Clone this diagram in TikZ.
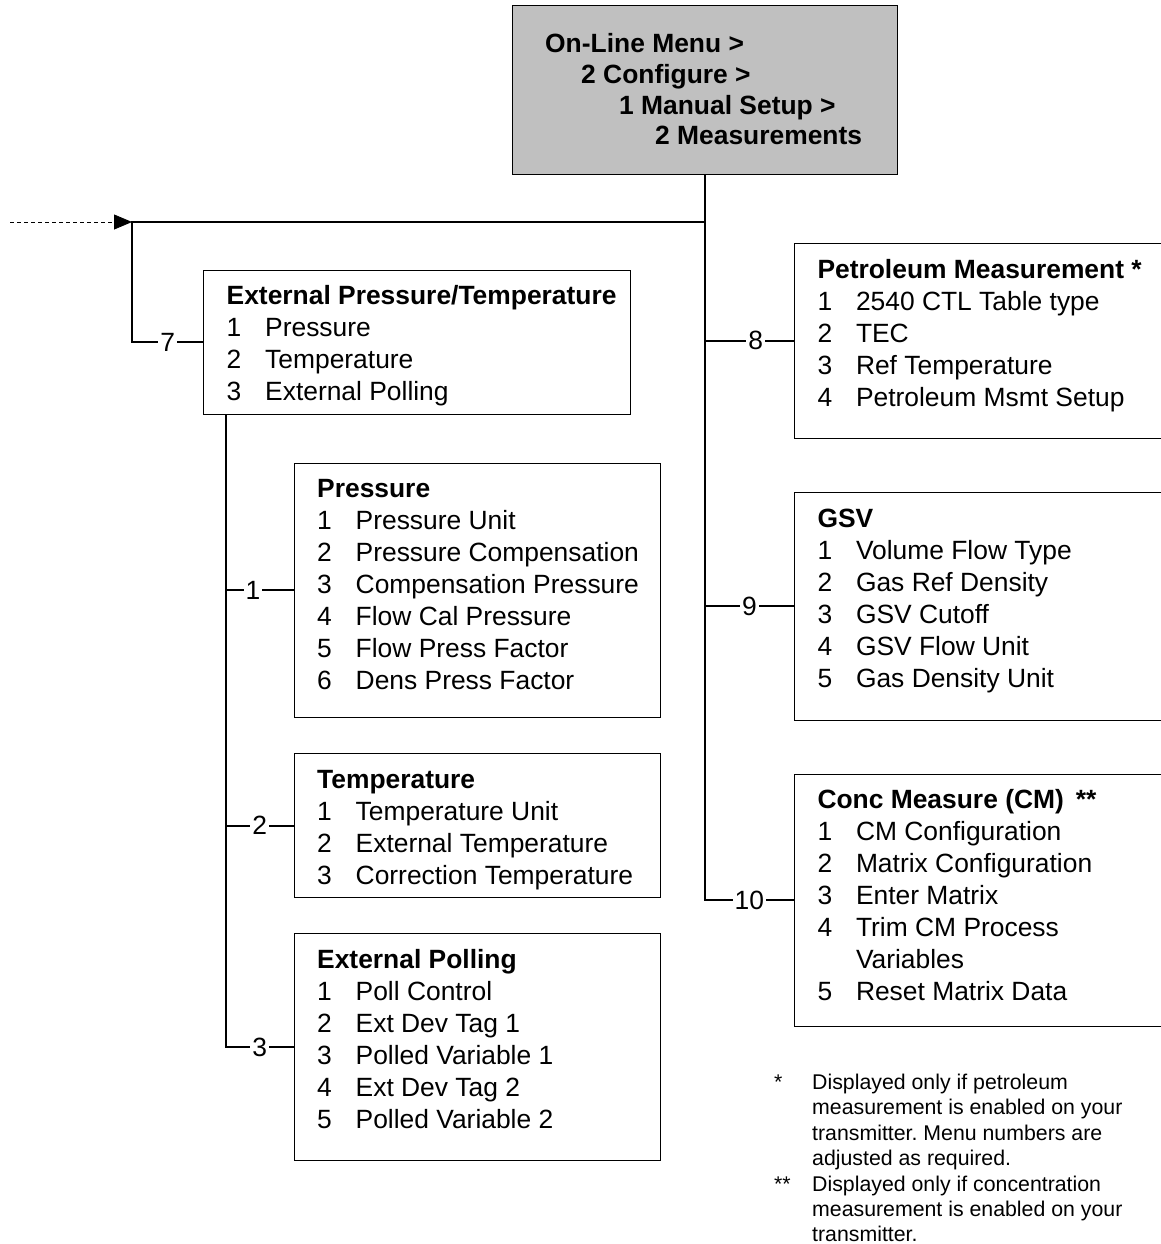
\documentclass[tikz,border=0pt]{standalone}
\usepackage{fontspec}
\setmainfont{Liberation Sans}
\usepackage{tikz}
\usetikzlibrary{arrows.meta,positioning,calc}
\definecolor{headgray}{HTML}{C0C0C0}
\frenchspacing

\newcommand{\itm}[2]{\makebox[38.5pt][l]{#1}#2}
\newcommand{\tstrut}{\rule{0pt}{20pt}}
\newcommand{\nstrut}{\rule{0pt}{18pt}}

\begin{document}
\begin{tikzpicture}[
  x=1pt, y=-1pt,
  >=Stealth,
  menubox/.style={draw, line width=1pt, anchor=north west, inner sep=0pt, outer sep=0pt},
  headbox/.style={menubox, fill=headgray},
  menutext/.style={anchor=north west, align=left, inner sep=0pt,
                   font=\fontsize{26.4}{32}\selectfont},
  headtext/.style={menutext, font=\fontsize{26.4}{30.7}\selectfont\bfseries},
  link/.style={draw, line width=2pt},
  num/.style={fill=white, inner sep=2pt, font=\fontsize{26.4}{32}\selectfont},
  note/.style={anchor=north west, align=left, inner sep=0pt,
               font=\fontsize{21.3}{25.3}\selectfont}
]
  \path[use as bounding box] (0,0) rectangle (1161,1244);
  \clip (0,0) rectangle (1161,1244);

  % menu path box
  \node[headbox, minimum width=385pt, minimum height=168pt] (measmenu) at (512,6) {};
  \node[headtext] (measmenu-t) at ([xshift=33pt, yshift=-26.5pt]measmenu.north west)
    {\tstrut On-Line Menu >\\
     \hspace*{36pt}2 Configure >\\
     \hspace*{74pt}1 Manual Setup >\\
     \hspace*{110pt}2 Measurements};

  % left column
  \node[menubox, minimum width=427pt, minimum height=144pt] (extpt) at (203.5,270) {};
  \node[menutext] (extpt-t) at ([xshift=23pt, yshift=-14.5pt]extpt.north west)
    {\tstrut\textbf{External Pressure/Temperature}\\
     \itm{1}{Pressure}\\
     \itm{2}{Temperature}\\
     \itm{3}{External Polling}};

  \node[menubox, minimum width=366.5pt, minimum height=254pt] (press) at (294,463) {};
  \node[menutext] (press-t) at ([xshift=23pt, yshift=-14.5pt]press.north west)
    {\tstrut\textbf{Pressure}\\
     \itm{1}{Pressure Unit}\\
     \itm{2}{Pressure Compensation}\\
     \itm{3}{Compensation Pressure}\\
     \itm{4}{Flow Cal Pressure}\\
     \itm{5}{Flow Press Factor}\\
     \itm{6}{Dens Press Factor}};

  \node[menubox, minimum width=366.5pt, minimum height=144pt] (temp) at (294,753.5) {};
  \node[menutext] (temp-t) at ([xshift=23pt, yshift=-14.5pt]temp.north west)
    {\tstrut\textbf{Temperature}\\
     \itm{1}{Temperature Unit}\\
     \itm{2}{External Temperature}\\
     \itm{3}{Correction Temperature}};

  \node[menubox, minimum width=366.5pt, minimum height=227pt] (poll) at (294,933.5) {};
  \node[menutext] (poll-t) at ([xshift=23pt, yshift=-14.5pt]poll.north west)
    {\tstrut\textbf{External Polling}\\
     \itm{1}{Poll Control}\\
     \itm{2}{Ext Dev Tag 1}\\
     \itm{3}{Polled Variable 1}\\
     \itm{4}{Ext Dev Tag 2}\\
     \itm{5}{Polled Variable 2}};

  % right column
  \node[menubox, minimum width=380pt, minimum height=195pt] (petro) at (794.3,243.3) {};
  \node[menutext] (petro-t) at ([xshift=23pt, yshift=-14.5pt]petro.north west)
    {\tstrut\textbf{Petroleum Measurement *}\\
     \itm{1}{2540 CTL Table type}\\
     \itm{2}{TEC}\\
     \itm{3}{Ref Temperature}\\
     \itm{4}{Petroleum Msmt Setup}};

  \node[menubox, minimum width=380pt, minimum height=227.3pt] (gsv) at (794.3,492.7) {};
  \node[menutext] (gsv-t) at ([xshift=23pt, yshift=-14.5pt]gsv.north west)
    {\tstrut\textbf{GSV}\\
     \itm{1}{Volume Flow Type}\\
     \itm{2}{Gas Ref Density}\\
     \itm{3}{GSV Cutoff}\\
     \itm{4}{GSV Flow Unit}\\
     \itm{5}{Gas Density Unit}};

  \node[menubox, minimum width=380pt, minimum height=252pt] (conc) at (794.3,774) {};
  \node[menutext] (conc-t) at ([xshift=23pt, yshift=-14.5pt]conc.north west)
    {\tstrut\textbf{Conc Measure (CM)\hspace{12pt}**}\\
     \itm{1}{CM Configuration}\\
     \itm{2}{Matrix Configuration}\\
     \itm{3}{Enter Matrix}\\
     \itm{4}{Trim CM Process}\\
     \itm{}{Variables}\\
     \itm{5}{Reset Matrix Data}};

  % footnotes
  \node[note] (fn1) at (774,1071.3)
    {\nstrut\makebox[38pt][l]{*}Displayed only if petroleum\\
     \hspace*{38pt}measurement is enabled on your\\
     \hspace*{38pt}transmitter. Menu numbers are\\
     \hspace*{38pt}adjusted as required.};
  \node[note] (fn2) at (774,1173)
    {\nstrut\makebox[38pt][l]{**}Displayed only if concentration\\
     \hspace*{38pt}measurement is enabled on your\\
     \hspace*{38pt}transmitter.};

  % connectors
  \coordinate (feed) at (10,222);
  \coordinate (jn) at (132,222);
  \coordinate (ptop) at ([xshift=22pt]extpt.south west);

  \draw[link] (measmenu.south) |- node[num, pos=0.75] {10} (conc.west);
  \draw[link] (measmenu.south |- petro.west) -- node[num, pos=0.57] {8} (petro.west);
  \draw[link] (measmenu.south |- gsv.west) -- node[num] {9} (gsv.west);
  \draw[link] (measmenu.south |- jn) -- (jn) |- node[num, pos=0.75] {7} (extpt.west);
  \draw[line width=0.8pt, dash pattern=on 4pt off 3pt,
        -{Triangle[length=18pt, width=15pt]}] (feed) -- (jn);

  \draw[link] (ptop) |- node[num, pos=0.75] {3} (poll.west);
  \draw[link] (ptop |- press.west) -- node[num, pos=0.4] {1} (press.west);
  \draw[link] (ptop |- temp.west) -- node[num] {2} (temp.west);
\end{tikzpicture}
\end{document}
